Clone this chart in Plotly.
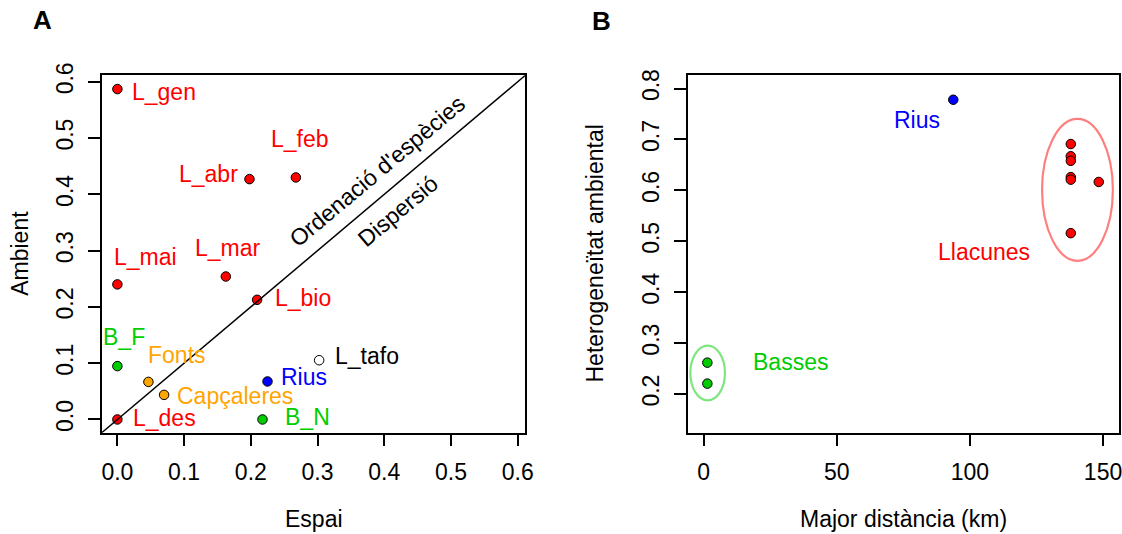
import plotly.graph_objects as go

# ---------------- Panel A: environmental vs spatial component ----------------
site_names = ["L_gen", "L_feb", "L_abr", "L_mai", "L_mar", "L_bio", "L_des",
              "L_tafo", "B_F", "B_N", "Fonts", "Capçaleres", "Rius"]
espai = [0.0, 0.2675, 0.198, 0.0, 0.1625, 0.2094, 0.0,
         0.3024, 0.0, 0.2175, 0.0465, 0.070, 0.225]
ambient = [0.587, 0.430, 0.427, 0.240, 0.254, 0.2126, 0.0,
           0.1053, 0.0948, 0.0, 0.0668, 0.0437, 0.0675]
site_group = ["L", "L", "L", "L", "L", "L", "L",
              "T", "B", "B", "F", "F", "R"]

# ---------------- Panel B: heterogeneity vs maximum distance ----------------
system_group = ["Rius", "Llacunes", "Llacunes", "Llacunes", "Llacunes",
                "Llacunes", "Llacunes", "Llacunes", "Basses", "Basses"]
distancia_km = [93.75, 137.9, 137.9, 137.9, 137.9, 137.9, 137.9, 148.4, 1.39, 1.39]
heterogeneitat = [0.778, 0.691, 0.667, 0.658, 0.626, 0.621, 0.516, 0.6165, 0.2616, 0.2204]

ticks_a = [0.0, 0.1, 0.2, 0.3, 0.4, 0.5, 0.6]
ticks_bx = [0, 50, 100, 150]
ticks_by = [0.2, 0.3, 0.4, 0.5, 0.6, 0.7, 0.8]

# ---------------- styling ----------------
RED, GREEN, BLUE, ORANGE = "#FF0000", "#00CD00", "#0000FF", "#FFA500"
group_fill = {"L": RED, "T": "white", "B": GREEN, "F": ORANGE, "R": BLUE}
group_text = {"L": RED, "T": "black", "B": GREEN, "F": ORANGE, "R": BLUE}
system_color = {"Rius": BLUE, "Llacunes": RED, "Basses": GREEN}

FONT = "Liberation Sans, Arial, Helvetica, sans-serif"
FS = 23

# label offsets (px, right / down) from each point in panel A
label_offsets = {
    "L_gen": (47, 3), "L_feb": (4, -38), "L_abr": (-41, -5), "L_mai": (28, -27),
    "L_mar": (2, -29), "L_bio": (46, -2), "L_des": (47, -1), "L_tafo": (48, -4),
    "B_F": (7, -29), "B_N": (45, -2), "Fonts": (29, -27), "Capçaleres": (71, 1),
    "Rius": (36, -4),
}

# group label positions in panel B (data units)
group_label_pos = {"Rius": (80.2, 0.7376), "Llacunes": (105.4, 0.4783),
                   "Basses": (32.7, 0.2635)}
# enclosing ellipses: (x0, x1, y0, y1) in data units
group_ellipse = {"Llacunes": (127.1, 153.7, 0.4616, 0.7404),
                 "Basses": (-5.0, 8.0, 0.1876, 0.295)}
ellipse_color = {"Llacunes": "rgba(255,0,0,0.5)", "Basses": "rgba(0,205,0,0.5)"}

range_a = [-0.0235, 0.6115]
range_bx = [-6, 156]
range_by = [0.124, 0.826]

W, H = 1122, 534
dom_y = [(534 - 432.7) / H, (534 - 75.3) / H]
dom_ax = [101.7 / W, 525.4 / W]
dom_bx = [687.7 / W, 1119 / W]

fig = go.Figure()

# panel A points
fig.add_trace(go.Scatter(
    x=espai, y=ambient, mode="markers", xaxis="x", yaxis="y",
    marker=dict(size=9.5, color=[group_fill[g] for g in site_group],
                line=dict(color="black", width=1)),
    showlegend=False, hoverinfo="skip"))

# panel B points
fig.add_trace(go.Scatter(
    x=distancia_km, y=heterogeneitat, mode="markers", xaxis="x2", yaxis="y2",
    marker=dict(size=9.5, color=[system_color[g] for g in system_group],
                line=dict(color="black", width=1)),
    showlegend=False, hoverinfo="skip"))

annotations = []
for name, xv, yv, g in zip(site_names, espai, ambient, site_group):
    dx, dy = label_offsets[name]
    annotations.append(dict(
        x=xv, y=yv, xref="x", yref="y", text=name, showarrow=False,
        xanchor="center", yanchor="middle", xshift=dx, yshift=-dy,
        font=dict(family=FONT, size=FS, color=group_text[g])))

for name, (gx, gy) in group_label_pos.items():
    annotations.append(dict(
        x=gx, y=gy, xref="x2", yref="y2", text=name, showarrow=False,
        xanchor="center", yanchor="middle",
        font=dict(family=FONT, size=FS, color=system_color[name])))

# diagonal annotations
annotations.append(dict(x=0.3897, y=0.4413, xref="x", yref="y",
                        text="Ordenació d'espècies", showarrow=False,
                        textangle=-40, font=dict(family=FONT, size=FS, color="black")))
annotations.append(dict(x=0.4204, y=0.3702, xref="x", yref="y",
                        text="Dispersió", showarrow=False,
                        textangle=-40, font=dict(family=FONT, size=FS, color="black")))

# axis titles
def paper_text(px, py, text, angle=0, size=FS, bold=False):
    return dict(x=px / W, y=1 - py / H, xref="paper", yref="paper",
                text=f"<b>{text}</b>" if bold else text, showarrow=False,
                xanchor="center", yanchor="middle", textangle=angle,
                font=dict(family=FONT, size=size, color="black"))

annotations += [
    paper_text(313.5, 519, "Espai"),
    paper_text(20, 253.8, "Ambient", angle=-90),
    paper_text(903.4, 519, "Major distància (km)"),
    paper_text(594.7, 253.8, "Heterogeneïtat ambiental", angle=-90),
    paper_text(42.5, 19.7, "A", size=26, bold=True),
    paper_text(601.7, 20.8, "B", size=26, bold=True),
]

shapes = [dict(type="line", xref="x", yref="y",
               x0=range_a[0], y0=range_a[0], x1=range_a[1], y1=range_a[1],
               line=dict(color="black", width=1.5))]
for name, (x0, x1, y0, y1) in group_ellipse.items():
    shapes.append(dict(type="circle", xref="x2", yref="y2",
                       x0=x0, x1=x1, y0=y0, y1=y1,
                       line=dict(color=ellipse_color[name], width=2.2)))

axis_style = dict(showline=True, mirror=True, linecolor="black", linewidth=1.5,
                  ticks="outside", ticklen=12, tickwidth=1.5, tickcolor="black",
                  showgrid=False, zeroline=False, automargin=False,
                  ticklabeloverflow="allow",
                  tickfont=dict(family=FONT, size=FS, color="black"))

fig.update_layout(
    width=W, height=H, autosize=False,
    margin=dict(l=0, r=0, t=0, b=0, pad=0, autoexpand=False),
    title=None,
    paper_bgcolor="white", plot_bgcolor="white",
    xaxis=dict(domain=dom_ax, range=range_a, tickvals=ticks_a, tickformat=".1f",
               anchor="y", ticklabelstandoff=6, **axis_style),
    yaxis=dict(domain=dom_y, range=range_a, tickvals=ticks_a, tickformat=".1f",
               anchor="x", tickangle=-90, ticklabelstandoff=6, **axis_style),
    xaxis2=dict(domain=dom_bx, range=range_bx, tickvals=ticks_bx,
                anchor="y2", ticklabelstandoff=6, **axis_style),
    yaxis2=dict(domain=dom_y, range=range_by, tickvals=ticks_by, tickformat=".1f",
                anchor="x2", tickangle=-90, ticklabelstandoff=6, **axis_style),
    annotations=annotations, shapes=shapes,
)

fig.write_html("out.html")
